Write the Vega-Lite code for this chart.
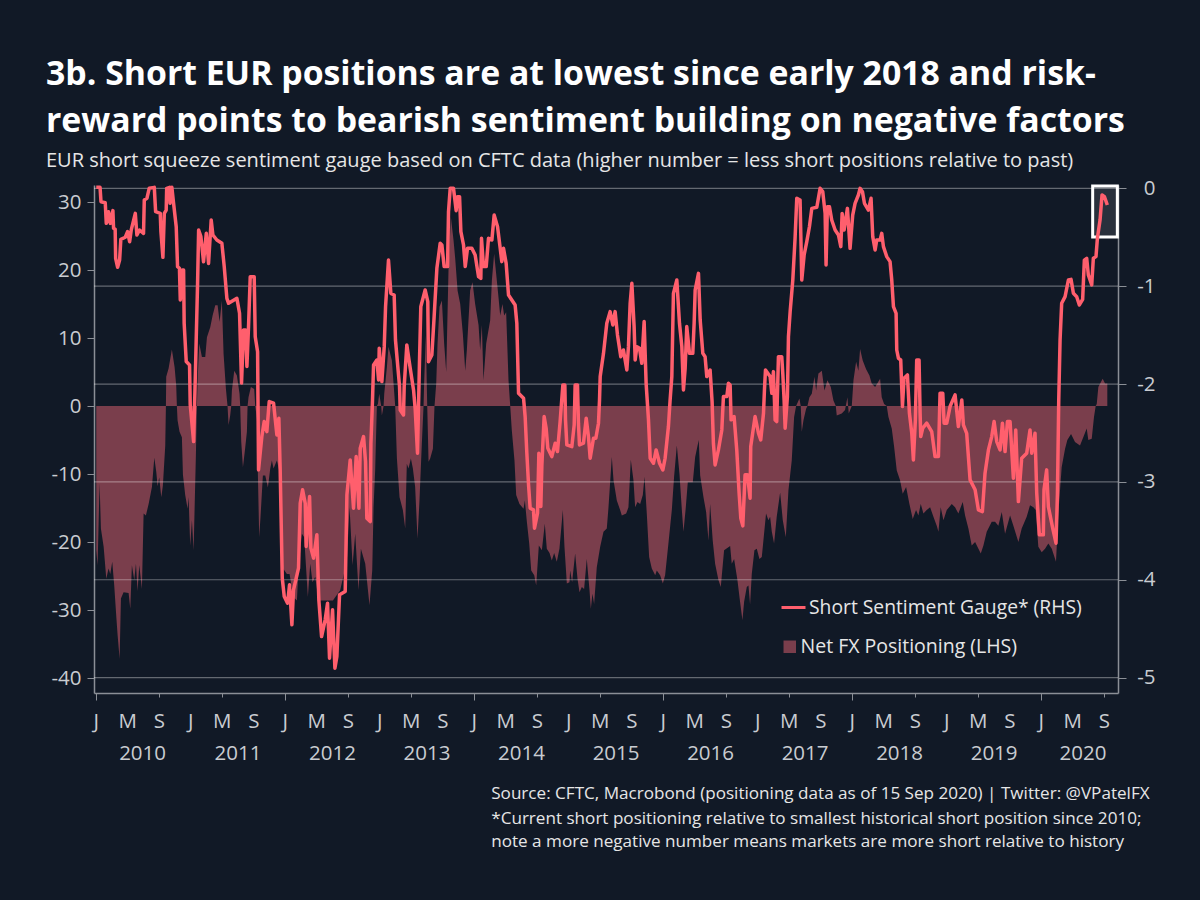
{
"$schema":"https://vega.github.io/schema/vega-lite/v6.json",
"width":1024,"height":508,"autosize":"none",
"padding":{"left":94,"top":185,"right":82,"bottom":207},
"background":"#111926",
"title":{"text":["3b. Short EUR positions are at lowest since early 2018 and risk-","reward points to bearish sentiment building on negative factors"],
"subtitle":"EUR short squeeze sentiment gauge based on CFTC data (higher number = less short positions relative to past)",
"anchor":"start","frame":"group","dx":-48,"offset":7,"font":"Open Sans","fontSize":33.8,"fontWeight":"bold","lineHeight":46.5,"color":"#ffffff",
"subtitleFont":"Open Sans","subtitleFontSize":20,"subtitleColor":"#e6e6e6","subtitlePadding":13},
"config":{"view":{"stroke":null},"font":"Open Sans"},
"datasets":{
"net":[
{"year":2010.0,"net":-21.2},{"year":2010.014,"net":-23.4},{"year":2010.035,"net":-11.4},{"year":2010.049,"net":-18},{"year":2010.078,"net":-20.7},{"year":2010.106,"net":-25.4},{"year":2010.13,"net":-23.9},{"year":2010.148,"net":-24.7},{"year":2010.169,"net":-22.9},{"year":2010.19,"net":-26.4},{"year":2010.212,"net":-31},{"year":2010.226,"net":-33.7},{"year":2010.247,"net":-37.2},{"year":2010.261,"net":-28.3},{"year":2010.289,"net":-27.4},{"year":2010.342,"net":-27.5},{"year":2010.36,"net":-29.8},{"year":2010.377,"net":-23.4},{"year":2010.402,"net":-25.6},{"year":2010.42,"net":-23.2},{"year":2010.437,"net":-27.2},{"year":2010.455,"net":-23.4},{"year":2010.483,"net":-26.9},{"year":2010.501,"net":-15.8},{"year":2010.525,"net":-16.1},{"year":2010.554,"net":-14.4},{"year":2010.589,"net":-11.9},{"year":2010.614,"net":-7.6},{"year":2010.635,"net":-9.7},{"year":2010.649,"net":-11.8},{"year":2010.666,"net":-10.5},{"year":2010.688,"net":-13.4},{"year":2010.705,"net":-11.7},{"year":2010.73,"net":-5.8},{"year":2010.737,"net":0},{"year":2010.74,"net":4.3},{"year":2010.765,"net":5.5},{"year":2010.8,"net":8.3},{"year":2010.829,"net":5.7},{"year":2010.846,"net":3},{"year":2010.853,"net":0},{"year":2010.86,"net":-2.1},{"year":2010.881,"net":-3.8},{"year":2010.906,"net":-4.6},{"year":2010.917,"net":-10.1},{"year":2010.941,"net":-13.1},{"year":2010.966,"net":-15.1},{"year":2010.977,"net":-13.4},{"year":2010.994,"net":-20.5},{"year":2011.012,"net":-16.8},{"year":2011.03,"net":-21.2},{"year":2011.054,"net":-7.3},{"year":2011.065,"net":0},{"year":2011.072,"net":3.8},{"year":2011.09,"net":9.2},{"year":2011.118,"net":7.2},{"year":2011.153,"net":7.2},{"year":2011.171,"net":10.1},{"year":2011.206,"net":11.6},{"year":2011.231,"net":13.3},{"year":2011.259,"net":14.8},{"year":2011.284,"net":14.8},{"year":2011.305,"net":12.4},{"year":2011.329,"net":15.5},{"year":2011.347,"net":7.7},{"year":2011.372,"net":2.5},{"year":2011.389,"net":0},{"year":2011.4,"net":-2.8},{"year":2011.417,"net":-1.4},{"year":2011.428,"net":0},{"year":2011.435,"net":2.3},{"year":2011.46,"net":5.2},{"year":2011.488,"net":4.5},{"year":2011.516,"net":1.8},{"year":2011.523,"net":0},{"year":2011.534,"net":-5.3},{"year":2011.552,"net":-9},{"year":2011.573,"net":-6.5},{"year":2011.594,"net":-3.8},{"year":2011.601,"net":0},{"year":2011.611,"net":1.3},{"year":2011.636,"net":2.8},{"year":2011.671,"net":2.5},{"year":2011.682,"net":0},{"year":2011.7,"net":-1.9},{"year":2011.71,"net":-10},{"year":2011.724,"net":-19.3},{"year":2011.738,"net":-16.3},{"year":2011.763,"net":-10.2},{"year":2011.788,"net":-10.2},{"year":2011.816,"net":-12},{"year":2011.841,"net":-9.2},{"year":2011.858,"net":-8},{"year":2011.876,"net":-9.2},{"year":2011.911,"net":-8},{"year":2011.936,"net":-9.5},{"year":2011.968,"net":-23.7},{"year":2012.017,"net":-24.7},{"year":2012.045,"net":-24.7},{"year":2012.087,"net":-28.1},{"year":2012.123,"net":-28.6},{"year":2012.14,"net":-23.9},{"year":2012.176,"net":-18.8},{"year":2012.2,"net":-19.3},{"year":2012.239,"net":-28.1},{"year":2012.264,"net":-23.2},{"year":2012.288,"net":-25.9},{"year":2012.317,"net":-25.1},{"year":2012.352,"net":-28.6},{"year":2012.422,"net":-28.6},{"year":2012.504,"net":-28.6},{"year":2012.581,"net":-27.1},{"year":2012.652,"net":-22.7},{"year":2012.68,"net":-14.9},{"year":2012.712,"net":-23.4},{"year":2012.74,"net":-18.8},{"year":2012.775,"net":-27.1},{"year":2012.8,"net":-21},{"year":2012.846,"net":-23.2},{"year":2012.891,"net":-29.3},{"year":2012.92,"net":-24.2},{"year":2012.934,"net":-14.9},{"year":2012.951,"net":-9.5},{"year":2012.969,"net":0},{"year":2012.98,"net":0.3},{"year":2012.994,"net":1.8},{"year":2013.015,"net":0},{"year":2013.022,"net":-1.4},{"year":2013.04,"net":0},{"year":2013.047,"net":1.8},{"year":2013.075,"net":5.7},{"year":2013.092,"net":8.7},{"year":2013.128,"net":6.7},{"year":2013.163,"net":0},{"year":2013.181,"net":-7.7},{"year":2013.209,"net":-13.4},{"year":2013.244,"net":-15.3},{"year":2013.269,"net":-18},{"year":2013.286,"net":-8.5},{"year":2013.304,"net":-9.2},{"year":2013.329,"net":-7.7},{"year":2013.35,"net":-9.2},{"year":2013.374,"net":-11.9},{"year":2013.399,"net":-19.5},{"year":2013.42,"net":-13.9},{"year":2013.445,"net":-5.5},{"year":2013.463,"net":0},{"year":2013.47,"net":3.8},{"year":2013.487,"net":10.4},{"year":2013.502,"net":0},{"year":2013.516,"net":-8.2},{"year":2013.533,"net":-7.7},{"year":2013.562,"net":-6.3},{"year":2013.579,"net":0},{"year":2013.597,"net":3.3},{"year":2013.611,"net":9.2},{"year":2013.632,"net":14.6},{"year":2013.657,"net":15.5},{"year":2013.681,"net":9.2},{"year":2013.703,"net":5},{"year":2013.727,"net":20},{"year":2013.752,"net":27.8},{"year":2013.78,"net":24.4},{"year":2013.798,"net":21.7},{"year":2013.823,"net":17},{"year":2013.851,"net":15},{"year":2013.879,"net":10.6},{"year":2013.904,"net":5.2},{"year":2013.921,"net":8.2},{"year":2013.956,"net":17},{"year":2013.981,"net":18.2},{"year":2014.009,"net":15},{"year":2014.045,"net":11.9},{"year":2014.062,"net":8.2},{"year":2014.08,"net":11.9},{"year":2014.097,"net":3.8},{"year":2014.126,"net":9.2},{"year":2014.168,"net":12.6},{"year":2014.186,"net":18.5},{"year":2014.21,"net":22.4},{"year":2014.231,"net":19.5},{"year":2014.256,"net":16},{"year":2014.274,"net":13.3},{"year":2014.298,"net":15},{"year":2014.316,"net":13.3},{"year":2014.337,"net":13.8},{"year":2014.362,"net":3.8},{"year":2014.38,"net":0},{"year":2014.397,"net":-3.6},{"year":2014.425,"net":-8},{"year":2014.443,"net":-13.1},{"year":2014.478,"net":-14.4},{"year":2014.521,"net":-15.1},{"year":2014.535,"net":-13.9},{"year":2014.556,"net":-17},{"year":2014.581,"net":-20.2},{"year":2014.602,"net":-24.2},{"year":2014.634,"net":-24.9},{"year":2014.655,"net":-26.4},{"year":2014.683,"net":-20.5},{"year":2014.715,"net":-21.2},{"year":2014.746,"net":-17.3},{"year":2014.767,"net":-21},{"year":2014.796,"net":-21.6},{"year":2014.82,"net":-22.7},{"year":2014.845,"net":-21.6},{"year":2014.873,"net":-22.9},{"year":2014.901,"net":-21},{"year":2014.937,"net":-15.3},{"year":2014.954,"net":-20.7},{"year":2014.979,"net":-26.1},{"year":2015.007,"net":-25.9},{"year":2015.014,"net":-24.2},{"year":2015.035,"net":-25.9},{"year":2015.067,"net":-21.7},{"year":2015.092,"net":-25.4},{"year":2015.113,"net":-27.4},{"year":2015.138,"net":-26.6},{"year":2015.162,"net":-26.9},{"year":2015.19,"net":-22.5},{"year":2015.219,"net":-27.1},{"year":2015.233,"net":-29.8},{"year":2015.25,"net":-27.6},{"year":2015.268,"net":-29.1},{"year":2015.296,"net":-23.7},{"year":2015.332,"net":-20.7},{"year":2015.367,"net":-18.5},{"year":2015.402,"net":-18},{"year":2015.42,"net":-14.9},{"year":2015.455,"net":-7.5},{"year":2015.473,"net":-10.9},{"year":2015.508,"net":-13.9},{"year":2015.543,"net":-15.3},{"year":2015.561,"net":-16.1},{"year":2015.607,"net":-15.8},{"year":2015.631,"net":-14.9},{"year":2015.656,"net":-7.9},{"year":2015.684,"net":-10.9},{"year":2015.702,"net":-14.9},{"year":2015.727,"net":-14.1},{"year":2015.755,"net":-14.4},{"year":2015.783,"net":-13.1},{"year":2015.801,"net":-10.4},{"year":2015.825,"net":-15.8},{"year":2015.85,"net":-22.2},{"year":2015.878,"net":-23.9},{"year":2015.914,"net":-24.9},{"year":2015.931,"net":-24.2},{"year":2015.966,"net":-24.9},{"year":2015.995,"net":-26.1},{"year":2016.019,"net":-24.9},{"year":2016.054,"net":-20.2},{"year":2016.09,"net":-15.3},{"year":2016.114,"net":-10.4},{"year":2016.143,"net":-5.8},{"year":2016.171,"net":-10},{"year":2016.196,"net":-15.3},{"year":2016.213,"net":-18.5},{"year":2016.238,"net":-14.9},{"year":2016.259,"net":-11.2},{"year":2016.312,"net":-11.2},{"year":2016.337,"net":-7.5},{"year":2016.375,"net":-5},{"year":2016.39,"net":-10.2},{"year":2016.425,"net":-13.4},{"year":2016.453,"net":-15.6},{"year":2016.478,"net":-19.8},{"year":2016.495,"net":-14.4},{"year":2016.523,"net":-19.8},{"year":2016.548,"net":-23.2},{"year":2016.583,"net":-25.6},{"year":2016.608,"net":-26.6},{"year":2016.643,"net":-21.2},{"year":2016.707,"net":-20.6},{"year":2016.724,"net":-23.2},{"year":2016.749,"net":-22.5},{"year":2016.784,"net":-25.6},{"year":2016.812,"net":-28.8},{"year":2016.837,"net":-31.5},{"year":2016.855,"net":-28.8},{"year":2016.883,"net":-26.6},{"year":2016.901,"net":-26.4},{"year":2016.918,"net":-29.2},{"year":2016.936,"net":-24.7},{"year":2016.964,"net":-21.2},{"year":2016.989,"net":-21},{"year":2017.017,"net":-22.5},{"year":2017.042,"net":-22.2},{"year":2017.066,"net":-18.8},{"year":2017.087,"net":-15.8},{"year":2017.112,"net":-16.8},{"year":2017.13,"net":-16.3},{"year":2017.148,"net":-18.5},{"year":2017.172,"net":-20.2},{"year":2017.2,"net":-16.3},{"year":2017.236,"net":-12.7},{"year":2017.264,"net":-16.8},{"year":2017.296,"net":-19.3},{"year":2017.324,"net":-12.4},{"year":2017.359,"net":-8},{"year":2017.384,"net":-1.6},{"year":2017.405,"net":0},{"year":2017.44,"net":1.1},{"year":2017.454,"net":0},{"year":2017.465,"net":-3.8},{"year":2017.483,"net":-2.1},{"year":2017.511,"net":-0.4},{"year":2017.525,"net":0},{"year":2017.546,"net":1.3},{"year":2017.571,"net":1.8},{"year":2017.599,"net":4.3},{"year":2017.617,"net":2.3},{"year":2017.641,"net":4.8},{"year":2017.677,"net":5.2},{"year":2017.705,"net":2.3},{"year":2017.736,"net":3.8},{"year":2017.772,"net":2.8},{"year":2017.8,"net":0.8},{"year":2017.825,"net":0},{"year":2017.835,"net":-1.4},{"year":2017.888,"net":-1.1},{"year":2017.923,"net":-0.6},{"year":2017.948,"net":1.3},{"year":2017.962,"net":-1.1},{"year":2017.994,"net":0},{"year":2018.012,"net":3.8},{"year":2018.04,"net":6.5},{"year":2018.064,"net":5.2},{"year":2018.082,"net":8.4},{"year":2018.11,"net":6.7},{"year":2018.146,"net":5.4},{"year":2018.181,"net":4.5},{"year":2018.205,"net":3.3},{"year":2018.241,"net":2.8},{"year":2018.294,"net":4},{"year":2018.311,"net":1.3},{"year":2018.336,"net":0.3},{"year":2018.364,"net":0},{"year":2018.382,"net":-1.6},{"year":2018.417,"net":-3.3},{"year":2018.442,"net":-6},{"year":2018.47,"net":-9.5},{"year":2018.505,"net":-10.9},{"year":2018.533,"net":-12.9},{"year":2018.569,"net":-11.9},{"year":2018.604,"net":-14.4},{"year":2018.639,"net":-16.6},{"year":2018.674,"net":-15.3},{"year":2018.699,"net":-16.1},{"year":2018.724,"net":-14.4},{"year":2018.752,"net":-15.8},{"year":2018.787,"net":-15.3},{"year":2018.823,"net":-14.9},{"year":2018.858,"net":-16.3},{"year":2018.893,"net":-17.6},{"year":2018.911,"net":-18.5},{"year":2018.935,"net":-14.9},{"year":2018.964,"net":-16.8},{"year":2018.999,"net":-15.3},{"year":2019.052,"net":-14.4},{"year":2019.087,"net":-14.9},{"year":2019.122,"net":-15.8},{"year":2019.168,"net":-14.1},{"year":2019.193,"net":-16.1},{"year":2019.228,"net":-18},{"year":2019.263,"net":-20.5},{"year":2019.299,"net":-20},{"year":2019.334,"net":-21},{"year":2019.359,"net":-21.7},{"year":2019.387,"net":-20.5},{"year":2019.422,"net":-18.5},{"year":2019.475,"net":-17},{"year":2019.51,"net":-17},{"year":2019.545,"net":-17.6},{"year":2019.581,"net":-15.6},{"year":2019.616,"net":-18.8},{"year":2019.669,"net":-16.1},{"year":2019.704,"net":-17.6},{"year":2019.757,"net":-20},{"year":2019.792,"net":-18},{"year":2019.845,"net":-16.3},{"year":2019.88,"net":-14.6},{"year":2019.916,"net":-14.9},{"year":2019.94,"net":-15.3},{"year":2019.968,"net":-20.7},{"year":2020.004,"net":-21.5},{"year":2020.039,"net":-21},{"year":2020.074,"net":-20.2},{"year":2020.11,"net":-21},{"year":2020.155,"net":-22.9},{"year":2020.18,"net":-15.8},{"year":2020.215,"net":-9},{"year":2020.251,"net":-6.3},{"year":2020.275,"net":-5},{"year":2020.314,"net":-4.1},{"year":2020.356,"net":-5.3},{"year":2020.409,"net":-5.8},{"year":2020.452,"net":-4.3},{"year":2020.48,"net":-3.3},{"year":2020.497,"net":-5},{"year":2020.533,"net":-4.8},{"year":2020.557,"net":-1.6},{"year":2020.575,"net":0},{"year":2020.586,"net":0.3},{"year":2020.603,"net":2.8},{"year":2020.649,"net":4},{"year":2020.674,"net":3.3},{"year":2020.698,"net":3.3}
],
"gauge":[
{"year":2010.0,"gauge":0.01},{"year":2010.04,"gauge":0.01},{"year":2010.05,"gauge":-0.137},{"year":2010.095,"gauge":-0.147},{"year":2010.106,"gauge":-0.358},{"year":2010.13,"gauge":-0.239},{"year":2010.148,"gauge":-0.358},{"year":2010.176,"gauge":-0.228},{"year":2010.183,"gauge":-0.409},{"year":2010.2,"gauge":-0.419},{"year":2010.205,"gauge":-0.715},{"year":2010.226,"gauge":-0.807},{"year":2010.247,"gauge":-0.733},{"year":2010.26,"gauge":-0.521},{"year":2010.307,"gauge":-0.5},{"year":2010.331,"gauge":-0.443},{"year":2010.353,"gauge":-0.545},{"year":2010.37,"gauge":-0.426},{"year":2010.413,"gauge":-0.256},{"year":2010.43,"gauge":-0.477},{"year":2010.458,"gauge":-0.426},{"year":2010.5,"gauge":-0.46},{"year":2010.508,"gauge":-0.12},{"year":2010.536,"gauge":-0.102},{"year":2010.56,"gauge":0},{"year":2010.614,"gauge":0.01},{"year":2010.628,"gauge":-0.239},{"year":2010.677,"gauge":-0.256},{"year":2010.684,"gauge":-0.443},{"year":2010.705,"gauge":-0.705},{"year":2010.72,"gauge":-0.256},{"year":2010.74,"gauge":-0.222},{"year":2010.745,"gauge":0},{"year":2010.776,"gauge":0.01},{"year":2010.78,"gauge":-0.153},{"year":2010.8,"gauge":0.01},{"year":2010.818,"gauge":-0.153},{"year":2010.846,"gauge":-0.392},{"year":2010.86,"gauge":-0.8},{"year":2010.88,"gauge":-0.817},{"year":2010.889,"gauge":-1.14},{"year":2010.91,"gauge":-0.834},{"year":2010.924,"gauge":-0.834},{"year":2010.93,"gauge":-1.379},{"year":2010.952,"gauge":-1.77},{"year":2010.987,"gauge":-1.805},{"year":2010.994,"gauge":-2.21},{"year":2011.03,"gauge":-2.588},{"year":2011.047,"gauge":-1.96},{"year":2011.072,"gauge":-0.97},{"year":2011.083,"gauge":-0.426},{"year":2011.107,"gauge":-0.494},{"year":2011.135,"gauge":-0.75},{"year":2011.164,"gauge":-0.46},{"year":2011.188,"gauge":-0.767},{"year":2011.216,"gauge":-0.324},{"year":2011.234,"gauge":-0.477},{"year":2011.276,"gauge":-0.528},{"year":2011.329,"gauge":-0.562},{"year":2011.354,"gauge":-0.8},{"year":2011.382,"gauge":-1.124},{"year":2011.4,"gauge":-1.175},{"year":2011.488,"gauge":-1.124},{"year":2011.516,"gauge":-1.277},{"year":2011.537,"gauge":-1.99},{"year":2011.558,"gauge":-1.447},{"year":2011.58,"gauge":-1.447},{"year":2011.594,"gauge":-1.82},{"year":2011.611,"gauge":-1.413},{"year":2011.629,"gauge":-0.903},{"year":2011.671,"gauge":-0.903},{"year":2011.682,"gauge":-1.516},{"year":2011.707,"gauge":-1.67},{"year":2011.717,"gauge":-2.877},{"year":2011.752,"gauge":-2.537},{"year":2011.777,"gauge":-2.383},{"year":2011.805,"gauge":-2.486},{"year":2011.83,"gauge":-2.179},{"year":2011.876,"gauge":-2.196},{"year":2011.911,"gauge":-2.52},{"year":2011.932,"gauge":-2.349},{"year":2011.946,"gauge":-2.877},{"year":2011.968,"gauge":-3.984},{"year":2011.989,"gauge":-4.171},{"year":2012.024,"gauge":-4.239},{"year":2012.045,"gauge":-4.052},{"year":2012.07,"gauge":-4.46},{"year":2012.087,"gauge":-4.103},{"year":2012.14,"gauge":-3.881},{"year":2012.158,"gauge":-3.218},{"year":2012.183,"gauge":-3.081},{"year":2012.211,"gauge":-3.218},{"year":2012.221,"gauge":-3.66},{"year":2012.257,"gauge":-3.149},{"year":2012.271,"gauge":-3.677},{"year":2012.299,"gauge":-3.779},{"year":2012.334,"gauge":-3.541},{"year":2012.355,"gauge":-4.205},{"year":2012.384,"gauge":-4.58},{"year":2012.422,"gauge":-4.409},{"year":2012.447,"gauge":-4.239},{"year":2012.468,"gauge":-4.801},{"year":2012.5,"gauge":-4.307},{"year":2012.525,"gauge":-4.903},{"year":2012.546,"gauge":-4.784},{"year":2012.574,"gauge":-4.154},{"year":2012.634,"gauge":-4.12},{"year":2012.652,"gauge":-3.132},{"year":2012.687,"gauge":-2.775},{"year":2012.722,"gauge":-3.269},{"year":2012.75,"gauge":-2.741},{"year":2012.779,"gauge":-3.269},{"year":2012.793,"gauge":-2.656},{"year":2012.828,"gauge":-2.537},{"year":2012.849,"gauge":-2.792},{"year":2012.863,"gauge":-3.371},{"year":2012.899,"gauge":-3.405},{"year":2012.906,"gauge":-2.605},{"year":2012.923,"gauge":-2.162},{"year":2012.934,"gauge":-1.805},{"year":2012.969,"gauge":-1.754},{"year":2012.987,"gauge":-1.958},{"year":2012.994,"gauge":-1.635},{"year":2013.022,"gauge":-1.975},{"year":2013.047,"gauge":-1.618},{"year":2013.061,"gauge":-1.209},{"year":2013.092,"gauge":-0.733},{"year":2013.117,"gauge":-1.073},{"year":2013.152,"gauge":-1.09},{"year":2013.166,"gauge":-1.55},{"year":2013.209,"gauge":-2.026},{"year":2013.216,"gauge":-2.265},{"year":2013.251,"gauge":-2.316},{"year":2013.258,"gauge":-2.026},{"year":2013.286,"gauge":-1.6},{"year":2013.322,"gauge":-1.839},{"year":2013.357,"gauge":-2.06},{"year":2013.374,"gauge":-2.247},{"year":2013.399,"gauge":-2.707},{"year":2013.42,"gauge":-1.771},{"year":2013.434,"gauge":-1.209},{"year":2013.48,"gauge":-1.039},{"year":2013.508,"gauge":-1.158},{"year":2013.515,"gauge":-1.771},{"year":2013.551,"gauge":-1.703},{"year":2013.575,"gauge":-1.311},{"year":2013.604,"gauge":-0.817},{"year":2013.639,"gauge":-0.562},{"year":2013.657,"gauge":-0.579},{"year":2013.681,"gauge":-0.8},{"year":2013.717,"gauge":-0.8},{"year":2013.727,"gauge":-0.239},{"year":2013.745,"gauge":0},{"year":2013.78,"gauge":0},{"year":2013.808,"gauge":-0.228},{"year":2013.822,"gauge":-0.085},{"year":2013.844,"gauge":-0.085},{"year":2013.858,"gauge":-0.443},{"year":2013.886,"gauge":-0.579},{"year":2013.904,"gauge":-0.8},{"year":2013.928,"gauge":-0.613},{"year":2013.974,"gauge":-0.613},{"year":2014.009,"gauge":-0.681},{"year":2014.045,"gauge":-0.903},{"year":2014.069,"gauge":-0.92},{"year":2014.076,"gauge":-0.511},{"year":2014.097,"gauge":-0.8},{"year":2014.126,"gauge":-0.8},{"year":2014.15,"gauge":-0.511},{"year":2014.186,"gauge":-0.528},{"year":2014.21,"gauge":-0.273},{"year":2014.246,"gauge":-0.392},{"year":2014.274,"gauge":-0.613},{"year":2014.291,"gauge":-0.749},{"year":2014.309,"gauge":-0.613},{"year":2014.337,"gauge":-0.767},{"year":2014.362,"gauge":-1.09},{"year":2014.432,"gauge":-1.192},{"year":2014.45,"gauge":-1.379},{"year":2014.468,"gauge":-2.094},{"year":2014.521,"gauge":-2.145},{"year":2014.538,"gauge":-2.332},{"year":2014.556,"gauge":-2.707},{"year":2014.574,"gauge":-3.03},{"year":2014.591,"gauge":-3.269},{"year":2014.626,"gauge":-3.286},{"year":2014.637,"gauge":-3.473},{"year":2014.669,"gauge":-3.32},{"year":2014.683,"gauge":-2.707},{"year":2014.704,"gauge":-3.252},{"year":2014.715,"gauge":-2.826},{"year":2014.739,"gauge":-2.332},{"year":2014.76,"gauge":-2.451},{"year":2014.778,"gauge":-2.656},{"year":2014.82,"gauge":-2.741},{"year":2014.856,"gauge":-2.605},{"year":2014.88,"gauge":-2.69},{"year":2014.908,"gauge":-2.383},{"year":2014.937,"gauge":-2.009},{"year":2014.958,"gauge":-2.009},{"year":2014.965,"gauge":-2.366},{"year":2014.979,"gauge":-2.622},{"year":2015.032,"gauge":-2.639},{"year":2015.057,"gauge":-2.417},{"year":2015.067,"gauge":-2.009},{"year":2015.092,"gauge":-2.009},{"year":2015.102,"gauge":-2.4},{"year":2015.113,"gauge":-2.622},{"year":2015.155,"gauge":-2.605},{"year":2015.184,"gauge":-2.349},{"year":2015.208,"gauge":-2.537},{"year":2015.226,"gauge":-2.758},{"year":2015.261,"gauge":-2.554},{"year":2015.286,"gauge":-2.554},{"year":2015.314,"gauge":-2.4},{"year":2015.325,"gauge":-2.162},{"year":2015.332,"gauge":-1.924},{"year":2015.367,"gauge":-1.686},{"year":2015.402,"gauge":-1.379},{"year":2015.437,"gauge":-1.26},{"year":2015.466,"gauge":-1.396},{"year":2015.49,"gauge":-1.26},{"year":2015.515,"gauge":-1.498},{"year":2015.55,"gauge":-1.72},{"year":2015.578,"gauge":-1.652},{"year":2015.614,"gauge":-1.856},{"year":2015.631,"gauge":-1.618},{"year":2015.649,"gauge":-1.175},{"year":2015.667,"gauge":-0.971},{"year":2015.691,"gauge":-1.413},{"year":2015.702,"gauge":-1.754},{"year":2015.72,"gauge":-1.618},{"year":2015.748,"gauge":-1.635},{"year":2015.772,"gauge":-1.788},{"year":2015.797,"gauge":-1.362},{"year":2015.818,"gauge":-1.992},{"year":2015.843,"gauge":-2.366},{"year":2015.861,"gauge":-2.758},{"year":2015.896,"gauge":-2.809},{"year":2015.924,"gauge":-2.673},{"year":2015.96,"gauge":-2.809},{"year":2015.995,"gauge":-2.877},{"year":2016.019,"gauge":-2.758},{"year":2016.054,"gauge":-2.434},{"year":2016.072,"gauge":-2.162},{"year":2016.09,"gauge":-1.924},{"year":2016.107,"gauge":-1.073},{"year":2016.143,"gauge":-0.937},{"year":2016.171,"gauge":-1.379},{"year":2016.196,"gauge":-1.618},{"year":2016.213,"gauge":-2.06},{"year":2016.231,"gauge":-1.839},{"year":2016.248,"gauge":-1.413},{"year":2016.277,"gauge":-1.686},{"year":2016.312,"gauge":-1.686},{"year":2016.326,"gauge":-1.379},{"year":2016.337,"gauge":-1.039},{"year":2016.372,"gauge":-0.869},{"year":2016.39,"gauge":-1.345},{"year":2016.418,"gauge":-1.686},{"year":2016.442,"gauge":-1.72},{"year":2016.46,"gauge":-1.924},{"year":2016.495,"gauge":-1.856},{"year":2016.516,"gauge":-2.18},{"year":2016.53,"gauge":-2.605},{"year":2016.548,"gauge":-2.826},{"year":2016.583,"gauge":-2.673},{"year":2016.619,"gauge":-2.469},{"year":2016.636,"gauge":-2.128},{"year":2016.672,"gauge":-2.128},{"year":2016.689,"gauge":-1.992},{"year":2016.707,"gauge":-2.009},{"year":2016.717,"gauge":-2.366},{"year":2016.749,"gauge":-2.332},{"year":2016.777,"gauge":-2.673},{"year":2016.802,"gauge":-3.115},{"year":2016.82,"gauge":-3.371},{"year":2016.841,"gauge":-3.449},{"year":2016.865,"gauge":-2.928},{"year":2016.89,"gauge":-2.928},{"year":2016.918,"gauge":-3.166},{"year":2016.925,"gauge":-2.639},{"year":2016.971,"gauge":-2.332},{"year":2017.007,"gauge":-2.503},{"year":2017.031,"gauge":-2.571},{"year":2017.06,"gauge":-2.298},{"year":2017.07,"gauge":-2.06},{"year":2017.081,"gauge":-1.856},{"year":2017.13,"gauge":-1.924},{"year":2017.148,"gauge":-2.094},{"year":2017.165,"gauge":-1.873},{"year":2017.183,"gauge":-2.367},{"year":2017.2,"gauge":-2.383},{"year":2017.218,"gauge":-1.72},{"year":2017.253,"gauge":-1.72},{"year":2017.264,"gauge":-1.89},{"year":2017.278,"gauge":-2.162},{"year":2017.289,"gauge":-2.451},{"year":2017.313,"gauge":-2.128},{"year":2017.324,"gauge":-1.516},{"year":2017.342,"gauge":-1.26},{"year":2017.37,"gauge":-0.937},{"year":2017.394,"gauge":-0.511},{"year":2017.412,"gauge":-0.102},{"year":2017.447,"gauge":-0.12},{"year":2017.465,"gauge":-0.937},{"year":2017.49,"gauge":-0.681},{"year":2017.518,"gauge":-0.545},{"year":2017.546,"gauge":-0.392},{"year":2017.571,"gauge":-0.205},{"year":2017.624,"gauge":-0.194},{"year":2017.659,"gauge":0},{"year":2017.687,"gauge":-0.034},{"year":2017.712,"gauge":-0.256},{"year":2017.722,"gauge":-0.783},{"year":2017.736,"gauge":-0.188},{"year":2017.758,"gauge":-0.188},{"year":2017.782,"gauge":-0.324},{"year":2017.818,"gauge":-0.426},{"year":2017.853,"gauge":-0.477},{"year":2017.878,"gauge":-0.596},{"year":2017.892,"gauge":-0.256},{"year":2017.913,"gauge":-0.426},{"year":2017.948,"gauge":-0.205},{"year":2017.976,"gauge":-0.613},{"year":2018.004,"gauge":-0.273},{"year":2018.029,"gauge":-0.153},{"year":2018.064,"gauge":-0.068},{"year":2018.082,"gauge":0},{"year":2018.107,"gauge":-0.034},{"year":2018.128,"gauge":-0.153},{"year":2018.17,"gauge":-0.222},{"year":2018.198,"gauge":-0.102},{"year":2018.216,"gauge":-0.494},{"year":2018.241,"gauge":-0.63},{"year":2018.258,"gauge":-0.528},{"year":2018.294,"gauge":-0.528},{"year":2018.311,"gauge":-0.46},{"year":2018.329,"gauge":-0.596},{"year":2018.364,"gauge":-0.698},{"year":2018.399,"gauge":-0.749},{"year":2018.417,"gauge":-0.937},{"year":2018.435,"gauge":-1.209},{"year":2018.463,"gauge":-1.277},{"year":2018.47,"gauge":-1.652},{"year":2018.488,"gauge":-1.737},{"year":2018.512,"gauge":-1.754},{"year":2018.53,"gauge":-2.23},{"year":2018.547,"gauge":-1.941},{"year":2018.583,"gauge":-1.907},{"year":2018.604,"gauge":-2.299},{"year":2018.629,"gauge":-2.503},{"year":2018.646,"gauge":-2.775},{"year":2018.667,"gauge":-2.366},{"year":2018.681,"gauge":-1.754},{"year":2018.706,"gauge":-1.754},{"year":2018.717,"gauge":-2.299},{"year":2018.724,"gauge":-2.537},{"year":2018.745,"gauge":-2.451},{"year":2018.787,"gauge":-2.4},{"year":2018.84,"gauge":-2.486},{"year":2018.875,"gauge":-2.741},{"year":2018.911,"gauge":-2.741},{"year":2018.928,"gauge":-2.094},{"year":2018.957,"gauge":-2.094},{"year":2018.971,"gauge":-2.4},{"year":2018.999,"gauge":-2.4},{"year":2019.034,"gauge":-2.23},{"year":2019.087,"gauge":-2.111},{"year":2019.122,"gauge":-2.434},{"year":2019.158,"gauge":-2.162},{"year":2019.175,"gauge":-2.417},{"year":2019.21,"gauge":-2.503},{"year":2019.246,"gauge":-2.979},{"year":2019.299,"gauge":-3.081},{"year":2019.334,"gauge":-3.286},{"year":2019.376,"gauge":-3.303},{"year":2019.404,"gauge":-2.911},{"year":2019.44,"gauge":-2.673},{"year":2019.475,"gauge":-2.537},{"year":2019.5,"gauge":-2.383},{"year":2019.528,"gauge":-2.588},{"year":2019.563,"gauge":-2.673},{"year":2019.588,"gauge":-2.4},{"year":2019.616,"gauge":-2.69},{"year":2019.641,"gauge":-2.383},{"year":2019.669,"gauge":-2.383},{"year":2019.704,"gauge":-2.962},{"year":2019.729,"gauge":-2.469},{"year":2019.757,"gauge":-3.201},{"year":2019.792,"gauge":-2.758},{"year":2019.845,"gauge":-2.707},{"year":2019.88,"gauge":-2.469},{"year":2019.898,"gauge":-2.707},{"year":2019.933,"gauge":-2.503},{"year":2019.951,"gauge":-3.115},{"year":2019.979,"gauge":-3.541},{"year":2020.021,"gauge":-3.541},{"year":2020.028,"gauge":-3.081},{"year":2020.056,"gauge":-2.877},{"year":2020.074,"gauge":-3.252},{"year":2020.12,"gauge":-3.473},{"year":2020.155,"gauge":-3.626},{"year":2020.17,"gauge":-3.132},{"year":2020.184,"gauge":-2.162},{"year":2020.198,"gauge":-1.55},{"year":2020.215,"gauge":-1.175},{"year":2020.251,"gauge":-1.107},{"year":2020.286,"gauge":-0.937},{"year":2020.314,"gauge":-0.93},{"year":2020.339,"gauge":-1.073},{"year":2020.374,"gauge":-1.107},{"year":2020.402,"gauge":-1.192},{"year":2020.437,"gauge":-1.134},{"year":2020.455,"gauge":-0.733},{"year":2020.48,"gauge":-0.715},{"year":2020.497,"gauge":-0.885},{"year":2020.533,"gauge":-0.987},{"year":2020.55,"gauge":-0.715},{"year":2020.578,"gauge":-0.698},{"year":2020.593,"gauge":-0.511},{"year":2020.621,"gauge":-0.324},{"year":2020.642,"gauge":-0.068},{"year":2020.667,"gauge":-0.085},{"year":2020.698,"gauge":-0.17}
]
},
"layer":[
{"data":{"name":"net"},
"mark":{"type":"area","clip":true},
"encoding":{
"x":{"field":"year","type":"quantitative","scale":{"domain":[2009.976,2020.811],"nice":false,"zero":false},
"axis":{"values":[2010,2010.333,2010.667,2011,2011.333,2011.667,2012,2012.333,2012.667,2013,2013.333,2013.667,2014,2014.333,2014.667,2015,2015.333,2015.667,2016,2016.333,2016.667,2017,2017.333,2017.667,2018,2018.333,2018.667,2019,2019.333,2019.667,2020,2020.333,2020.667],
"labels":false,
"domainColor":"#8b8f96","domainWidth":1.5,"tickColor":"#8b8f96","tickWidth":1,"grid":false,
"tickSize":{"condition":{"test":"(datum.value-floor(datum.value))<0.01","value":7},"value":4},
"title":null}},
"y":{"field":"net","type":"quantitative","scale":{"domain":[-42.2,32.5],"nice":false,"zero":false},
"axis":{"orient":"left","values":[30,20,10,0,-10,-20,-30,-40],"labelExpr":"''+datum.value","title":null,"grid":false,"labelFont":"Open Sans","labelFontSize":20.5,"labelColor":"#c9ccd1","labelPadding":6,"domainColor":"#8b8f96","domainWidth":1.5,"tickColor":"#8b8f96","tickSize":7}},
"color":{"datum":"Net FX Positioning (LHS)","scale":{"range":["#7a3e4c"]},
"legend":{"orient":"none","legendX":686,"legendY":452,"title":null,"symbolType":"square","symbolSize":156,"symbolStrokeWidth":0,"labelFont":"Open Sans","labelFontSize":19.5,"labelLimit":400,"labelColor":"#e6e6e6","labelOffset":1}}
}},
{"data":{"values":[{"level":0},{"level":-1},{"level":-2},{"level":-3},{"level":-4},{"level":-5}]},
"mark":{"type":"rule","color":"#ffffff","opacity":0.35,"strokeWidth":1.2},
"encoding":{"y":{"field":"level","type":"quantitative","scale":{"domain":[-5.157,0.034],"nice":false,"zero":false},"axis":null}}},
{"data":{"values":[{"start":2020.543,"end":2020.804,"top":0.023,"bottom":-0.497}]},
"mark":{"type":"rect","fill":"#ffffff","fillOpacity":0.1,"stroke":"#ffffff","strokeOpacity":1,"strokeWidth":3,"clip":false},
"encoding":{"x":{"field":"start","type":"quantitative"},"x2":{"field":"end"},
"y":{"field":"top","type":"quantitative","scale":{"domain":[-5.157,0.034],"nice":false,"zero":false},"axis":null},"y2":{"field":"bottom"}}},
{"data":{"name":"gauge"},
"mark":{"type":"line","strokeWidth":3.5,"strokeJoin":"round","clip":true},
"encoding":{
"x":{"field":"year","type":"quantitative"},
"y":{"field":"gauge","type":"quantitative","scale":{"domain":[-5.157,0.034],"nice":false,"zero":false},
"axis":{"orient":"right","values":[0,-1,-2,-3,-4,-5],"labelExpr":"''+datum.value","title":null,"grid":false,"labelAlign":"right","labelFont":"Open Sans","labelFontSize":20.5,"labelColor":"#c9ccd1","labelPadding":29,"domainColor":"#8b8f96","domainWidth":1.5,"tickColor":"#8b8f96","tickSize":8}},
"stroke":{"datum":"Short Sentiment Gauge* (RHS)","scale":{"range":["#ff5f6d"]},
"legend":{"orient":"none","legendX":686,"legendY":409,"title":null,"symbolType":"stroke","symbolSize":576,"symbolStrokeWidth":3,"labelFont":"Open Sans","labelFontSize":19.3,"labelLimit":400,"labelColor":"#e6e6e6","labelOffset":2}}
}},
{"data":{"values":[{"year":2010,"pos":-5.452,"note":"J"},{"year":2010.333,"pos":-5.452,"note":"M"},{"year":2010.667,"pos":-5.452,"note":"S"},{"year":2011,"pos":-5.452,"note":"J"},{"year":2011.333,"pos":-5.452,"note":"M"},{"year":2011.667,"pos":-5.452,"note":"S"},{"year":2012,"pos":-5.452,"note":"J"},{"year":2012.333,"pos":-5.452,"note":"M"},{"year":2012.667,"pos":-5.452,"note":"S"},{"year":2013,"pos":-5.452,"note":"J"},{"year":2013.333,"pos":-5.452,"note":"M"},{"year":2013.667,"pos":-5.452,"note":"S"},{"year":2014,"pos":-5.452,"note":"J"},{"year":2014.333,"pos":-5.452,"note":"M"},{"year":2014.667,"pos":-5.452,"note":"S"},{"year":2015,"pos":-5.452,"note":"J"},{"year":2015.333,"pos":-5.452,"note":"M"},{"year":2015.667,"pos":-5.452,"note":"S"},{"year":2016,"pos":-5.452,"note":"J"},{"year":2016.333,"pos":-5.452,"note":"M"},{"year":2016.667,"pos":-5.452,"note":"S"},{"year":2017,"pos":-5.452,"note":"J"},{"year":2017.333,"pos":-5.452,"note":"M"},{"year":2017.667,"pos":-5.452,"note":"S"},{"year":2018,"pos":-5.452,"note":"J"},{"year":2018.333,"pos":-5.452,"note":"M"},{"year":2018.667,"pos":-5.452,"note":"S"},{"year":2019,"pos":-5.452,"note":"J"},{"year":2019.333,"pos":-5.452,"note":"M"},{"year":2019.667,"pos":-5.452,"note":"S"},{"year":2020,"pos":-5.452,"note":"J"},{"year":2020.333,"pos":-5.452,"note":"M"},{"year":2020.667,"pos":-5.452,"note":"S"},{"year":2010.49,"pos":-5.778,"note":"2010"},{"year":2011.5,"pos":-5.778,"note":"2011"},{"year":2012.5,"pos":-5.778,"note":"2012"},{"year":2013.5,"pos":-5.778,"note":"2013"},{"year":2014.5,"pos":-5.778,"note":"2014"},{"year":2015.5,"pos":-5.778,"note":"2015"},{"year":2016.5,"pos":-5.778,"note":"2016"},{"year":2017.5,"pos":-5.778,"note":"2017"},{"year":2018.5,"pos":-5.778,"note":"2018"},{"year":2019.5,"pos":-5.778,"note":"2019"},{"year":2020.44,"pos":-5.778,"note":"2020"}]},
"mark":{"type":"text","align":"center","baseline":"middle","font":"Open Sans","fontSize":20.5,"color":"#c9ccd1","clip":false},
"encoding":{"x":{"field":"year","type":"quantitative"},
"y":{"field":"pos","type":"quantitative","scale":{"domain":[-5.157,0.034],"nice":false,"zero":false},"axis":null},
"text":{"field":"note"}}},
{"data":{"values":[{"year":2014.179,"pos":-6.19,"note":"Source: CFTC, Macrobond (positioning data as of 15 Sep 2020) | Twitter: @VPatelFX"},{"year":2014.179,"pos":-6.44,"note":"*Current short positioning relative to smallest historical short position since 2010;"},{"year":2014.179,"pos":-6.68,"note":"note a more negative number means markets are more short relative to history"}]},
"mark":{"type":"text","align":"left","baseline":"middle","font":"Open Sans","fontSize":17.1,"color":"#e6e6e6","clip":false},
"encoding":{"x":{"field":"year","type":"quantitative"},
"y":{"field":"pos","type":"quantitative","scale":{"domain":[-5.157,0.034],"nice":false,"zero":false},"axis":null},
"text":{"field":"note"}}}
],
"resolve":{"scale":{"y":"independent"}}
}
